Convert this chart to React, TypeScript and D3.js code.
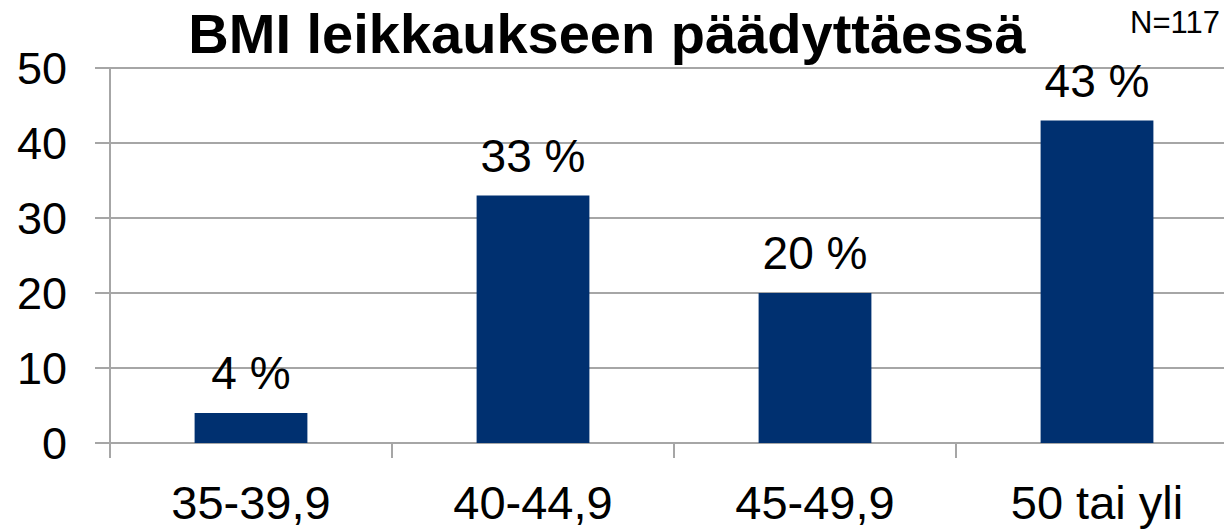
import React from "react";
import * as d3 from "d3";

const categories = ["35-39,9", "40-44,9", "45-49,9", "50 tai yli"];
const values = [4, 33, 20, 43];
const valueLabels = ["4 %", "33 %", "20 %", "43 %"];
const yTicks = [0, 10, 20, 30, 40, 50];
const title = "BMI leikkaukseen päädyttäessä";
const note = "N=117";

export default function App() {
  const W = 1224, H = 529;
  const left = 110, catW = 282;
  const x = d3.scaleBand<string>().domain(categories).range([left, left + catW * categories.length]).paddingInner(0.6).paddingOuter(0.3);
  const y = d3.scaleLinear().domain([0, 50]).range([443, 68]);
  const font = "'Liberation Sans', Arial, sans-serif";
  const grid = "#A6A6A6";
  const edges = d3.range(categories.length + 1).map((i) => left + i * catW);
  return (
    <svg width={W} height={H} style={{ position: "absolute", left: 0, top: 0, background: "#fff" }} fontFamily={font}>
      {yTicks.map((t) => (
        <g key={t}>
          <line x1={95} x2={W} y1={y(t)} y2={y(t)} stroke={grid} strokeWidth={2} />
          <text x={67} y={y(t)} dy="0.36em" textAnchor="end" fontSize={45} fill="#000">{t}</text>
        </g>
      ))}
      <line x1={left} x2={left} y1={y(50)} y2={458} stroke={grid} strokeWidth={2} />
      {edges.slice(1).map((e, i) => (
        <line key={i} x1={e} x2={e} y1={y(0)} y2={458} stroke={grid} strokeWidth={2} />
      ))}
      {categories.map((c, i) => (
        <g key={c}>
          <rect x={x(c)} y={y(values[i])} width={x.bandwidth()} height={y(0) - y(values[i])} fill="#003070" />
          <text x={(x(c) as number) + x.bandwidth() / 2} y={y(values[i]) - 24} textAnchor="middle" fontSize={46} fill="#000">{valueLabels[i]}</text>
          <text x={(x(c) as number) + x.bandwidth() / 2} y={519} textAnchor="middle" fontSize={47} fill="#000">{c}</text>
        </g>
      ))}
      <text x={607} y={53} textAnchor="middle" fontSize={56} fontWeight="bold" fill="#000">{title}</text>
      <text x={1220} y={33} textAnchor="end" fontSize={31} fill="#000">{note}</text>
    </svg>
  );
}
